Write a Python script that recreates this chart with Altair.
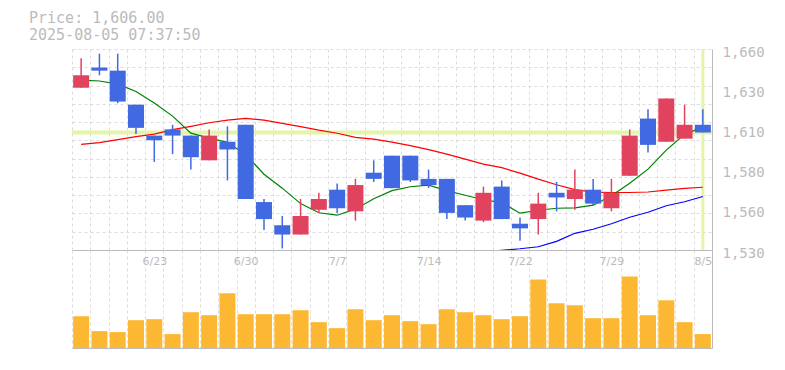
import altair as alt
import pandas as pd

# ---- data ----
dates = ["6/17", "6/18", "6/19", "6/20", "6/23", "6/24", "6/25", "6/26", "6/27",
         "6/30", "7/1", "7/2", "7/3", "7/4", "7/7", "7/8", "7/9", "7/10", "7/11",
         "7/14", "7/15", "7/16", "7/17", "7/18", "7/22", "7/23", "7/24", "7/25",
         "7/28", "7/29", "7/30", "7/31", "8/1", "8/4", "8/5"]
opens = [1635, 1648, 1646, 1624, 1604, 1608, 1604, 1588, 1600, 1611, 1561, 1546,
         1540, 1556, 1569, 1555, 1580, 1591, 1591, 1576, 1576, 1559, 1549, 1571,
         1547, 1550, 1567, 1563, 1569, 1557, 1578, 1615, 1600, 1602, 1611]
highs = [1654, 1657, 1657, 1624, 1604, 1611, 1604, 1608, 1610, 1611, 1563, 1552,
         1563, 1567, 1573, 1576, 1588, 1591, 1591, 1582, 1576, 1559, 1571, 1575,
         1551, 1567, 1574, 1582, 1576, 1576, 1608, 1621, 1628, 1624, 1621]
lows = [1635, 1643, 1625, 1605, 1587, 1592, 1582, 1588, 1575, 1563, 1543, 1531,
        1540, 1554, 1554, 1549, 1574, 1570, 1574, 1570, 1550, 1549, 1548, 1550,
        1536, 1540, 1555, 1556, 1559, 1555, 1578, 1593, 1600, 1602, 1606]
closes = [1643, 1646, 1626, 1609, 1601, 1604, 1590, 1604, 1595, 1563, 1550, 1540,
          1552, 1563, 1557, 1572, 1576, 1570, 1575, 1572, 1554, 1551, 1567, 1550,
          1544, 1560, 1564, 1569, 1560, 1567, 1604, 1598, 1628, 1611, 1606]
volumes = [320, 170, 160, 280, 290, 140, 360, 330, 550, 340, 340, 340, 380, 260,
           200, 390, 280, 330, 270, 240, 390, 360, 330, 290, 320, 690, 450, 430,
           300, 300, 720, 330, 480, 260, 140]
ma5 = [1639.9, 1639.3, 1637.3, 1632.5, 1625.0, 1616.6, 1605.6, 1602.4, 1599.6,
       1591.7, 1579.0, 1570.0, 1560.0, 1554.1, 1552.5, 1556.4, 1563.2, 1568.4,
       1570.9, 1571.9, 1568.4, 1565.4, 1562.5, 1560.6, 1553.8, 1555.7, 1557.0,
       1557.3, 1559.0, 1565.1, 1573.2, 1582.3, 1594.6, 1604.9, 1609.5]
ma25 = [1598.3, 1599.4, 1601.4, 1603.3, 1604.9, 1607.9, 1609.9, 1612.3, 1614.0,
        1615.1, 1614.0, 1611.9, 1609.8, 1607.5, 1605.5, 1602.8, 1601.7, 1599.8,
        1597.5, 1594.9, 1592.0, 1588.8, 1585.5, 1583.3, 1579.7, 1575.8, 1572.2,
        1569.0, 1567.4, 1567.2, 1567.2, 1567.5, 1568.7, 1569.8, 1570.6]
ma75 = [None] * 22 + [1528.8, 1529.8, 1530.8, 1532.1, 1535.6, 1540.8, 1543.4,
                      1547.0, 1551.2, 1554.4, 1558.6, 1561.2, 1564.6]
last_price = [1606]
last_date = ["8/5"]
label_dates = ["6/23", "6/30", "7/7", "7/14", "7/22", "7/29", "8/5"]
header = ["Price: 1,606.00", "2025-08-05 07:37:50"]

# ---- styling ----
RED, BLUE, ORANGE = "#E1435F", "#4169E1", "#FDB833"
GRID, AX, TXT = "#dcdcdc", "#bbbbbb", "#bbbbbb"
MONO = "DejaVu Sans Mono"

df = pd.DataFrame(dict(date=dates, open=opens, high=highs, low=lows, close=closes,
                       volume=volumes, ma5=ma5, ma25=ma25, ma75=ma75))
df["dir"] = ["up" if c >= o else "down" for o, c in zip(opens, closes)]

x_scale = alt.Scale(domain=dates, paddingInner=0, paddingOuter=0)
y_min, y_max = 1530, 1660
y_scale = alt.Scale(domain=[y_min, y_max], nice=False, zero=False)
color = alt.Color("dir:N", scale=alt.Scale(domain=["up", "down"], range=[RED, BLUE]),
                  legend=None)

x_axis_price = alt.Axis(orient="bottom", labels=False, ticks=False, domain=True,
                        domainColor=AX, grid=True, gridColor=GRID, gridDash=[3, 3],
                        tickBand="extent", title=None)
label_vals = [y_min + (y_max - y_min) * k / 5 for k in range(6)]
grid_vals = [y_min + (y_max - y_min) * k / 11 for k in range(12)]
right_axis = alt.Axis(orient="right", values=label_vals,
                      labelExpr="format(round(datum.value/10)*10, ',')",
                      ticks=False, grid=False, domain=True, domainColor=AX,
                      labelPadding=10, labelFont=MONO, labelFontSize=14,
                      labelColor=TXT, labelFlush=False, labelOverlap=False,
                      labelBaseline="middle", labelOffset=3, title=None)
grid_axis = alt.Axis(orient="left", values=grid_vals, labels=False, ticks=False,
                     domain=False, grid=True, gridColor=GRID, gridDash=[3, 3],
                     title=None)

X = alt.X("date:O", scale=x_scale, axis=x_axis_price)

hline = alt.Chart(pd.DataFrame({"price": last_price})).mark_rule(
    color="#E4F4A8", strokeWidth=4).encode(
    y=alt.Y("price:Q", scale=y_scale, axis=grid_axis))
vline = alt.Chart(pd.DataFrame({"date": last_date})).mark_rule(
    color="#E4F4A8", strokeWidth=3).encode(x=X)

base = alt.Chart(df)
line75 = base.mark_line(color="#0000FF", strokeWidth=1.2, clip=True).encode(
    x=X, y=alt.Y("ma75:Q", scale=y_scale, axis=None))
line25 = base.mark_line(color="#FF0000", strokeWidth=1.2).encode(
    x=X, y=alt.Y("ma25:Q", scale=y_scale, axis=None))
line5 = base.mark_line(color="#008000", strokeWidth=1.2).encode(
    x=X, y=alt.Y("ma5:Q", scale=y_scale, axis=None))
wicks = base.mark_rule(strokeWidth=1.5).encode(
    x=X, y=alt.Y("low:Q", scale=y_scale, axis=None), y2="high:Q", color=color)
bodies = base.mark_bar(width=alt.RelativeBandSize(0.875)).encode(
    x=X, y=alt.Y("open:Q", scale=y_scale, axis=right_axis), y2="close:Q",
    color=color)

price = alt.layer(hline, vline, line75, line25, line5, wicks, bodies).resolve_axis(
    y="independent").properties(width=640, height=201)

label_list = ",".join("'%s'" % d for d in label_dates)
vol = alt.Chart(df).mark_bar(width=alt.RelativeBandSize(0.875), color=ORANGE).encode(
    x=alt.X("date:O", scale=x_scale, axis=alt.Axis(
        orient="bottom", ticks=False, domain=True, domainColor=AX, grid=True,
        gridColor=GRID, gridDash=[3, 3], tickBand="extent", labelAngle=0,
        labelExpr="indexof([%s], datum.value) >= 0 ? datum.value : ''" % label_list,
        labelPadding=-93, labelFont="DejaVu Sans", labelFontSize=11,
        labelColor=TXT, labelOverlap=False, title=None)),
    y=alt.Y("volume:Q", scale=alt.Scale(domain=[0, 986]), axis=alt.Axis(
        orient="right", labels=False, ticks=False, grid=False, domain=True,
        domainColor=AX, title=None)),
).properties(width=640, height=98)

chart = alt.vconcat(price, vol, spacing=0, bounds="flush").properties(
    title=alt.TitleParams(text=header, anchor="start", font=MONO, fontSize=15,
                          fontWeight="normal", color=TXT, lineHeight=17.5,
                          dx=-41, offset=2),
    padding={"left": 21, "top": 2, "right": 5, "bottom": 5},
).configure_view(stroke=None)

chart.save("out.html", embed_options={"renderer": "svg", "actions": False})
